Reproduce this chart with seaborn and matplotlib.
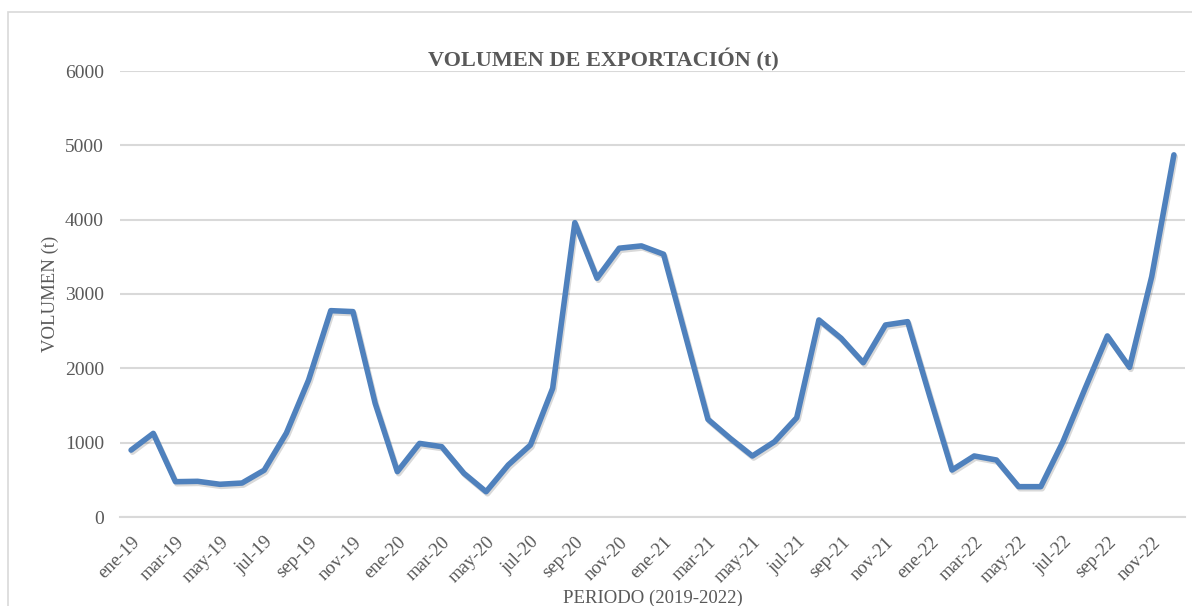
import matplotlib
matplotlib.use("Agg")
import matplotlib.pyplot as plt
import matplotlib.patheffects as pe
from matplotlib.patches import Rectangle
import seaborn as sns
import pandas as pd

months = ["ene", "feb", "mar", "abr", "may", "jun", "jul", "ago", "sep", "oct", "nov", "dic"]
years = ["19", "20", "21", "22"]
periodos = [f"{m}-{y}" for y in years for m in months]

volumen = [
    900, 1125, 475, 480, 440, 457, 630, 1130, 1843, 2776, 2763, 1530,
    610, 990, 946, 588, 340, 700, 969, 1731, 3960, 3212, 3616, 3647,
    3535, 2426, 1314, 1059, 821, 1013, 1336, 2651, 2405, 2076, 2583, 2628,
    1620, 632, 821, 767, 408, 408, 1013, 1731, 2436, 2014, 3234, 4872,
]

df = pd.DataFrame({"idx": range(len(periodos)), "periodo": periodos, "volumen": volumen})

sns.set_theme(style="white")
plt.rcParams["font.family"] = ["Liberation Serif", "DejaVu Serif"]

W, H = 1192, 606
fig = plt.figure(figsize=(W / 100, H / 100), dpi=100)
ax_l, ax_r, ax_b, ax_t = 120, 1185, 517, 71
ax = fig.add_axes([ax_l / W, 1 - ax_b / H, (ax_r - ax_l) / W, (ax_b - ax_t) / H])

sns.lineplot(data=df, x="idx", y="volumen", ax=ax, color="#4F81BD", linewidth=4.0,
             solid_joinstyle="round", solid_capstyle="round",
             path_effects=[pe.SimpleLineShadow(offset=(1, -1.5), alpha=0.15, shadow_color="black"), pe.Normal()])

ax.set_xlim(-0.5, len(periodos) - 0.5)
ax.set_ylim(0, 6000)
ax.set_yticks(range(0, 6001, 1000))
ax.set_xticks(range(0, len(periodos), 2))
ax.set_xticklabels(periodos[::2], rotation=45, ha="right", rotation_mode="anchor",
                   fontsize=13.5, color="#595959")
ax.tick_params(axis="y", labelsize=14, labelcolor="#595959", length=0, pad=11.5)
ax.tick_params(axis="x", length=0, pad=12)
ax.grid(axis="y", color="#D9D9D9", linewidth=1.5)
ax.set_axisbelow(True)
for s in ["top", "right", "left"]:
    ax.spines[s].set_visible(False)
ax.spines["bottom"].set_color("#D9D9D9")
ax.spines["bottom"].set_linewidth(1.5)

ax.set_xlabel("PERIODO (2019-2022)", fontsize=13.5, color="#595959")
ax.xaxis.set_label_coords(0.5, -(598 - ax_b) / (ax_b - ax_t), transform=ax.transAxes)
ax.xaxis.label.set_va("center")
ax.set_ylabel("VOLUMEN (t)", fontsize=13.5, color="#595959")
ax.yaxis.set_label_coords(-(ax_l - 50) / (ax_r - ax_l), (ax_b - 294) / (ax_b - ax_t), transform=ax.transAxes)
ax.yaxis.label.set_va("center")
fig.text(603 / W, 1 - 60 / H, "VOLUMEN DE EXPORTACIÓN (t)", ha="center", va="center",
         fontsize=16, fontweight="bold", color="#595959")

fig.patches.append(Rectangle((8 / W, -0.02), 1.0, 0.02 + 1 - 12 / H,
                             transform=fig.transFigure, fill=False,
                             edgecolor="#D9D9D9", linewidth=1.2))

fig.savefig("out.png", dpi=100, facecolor="white")
